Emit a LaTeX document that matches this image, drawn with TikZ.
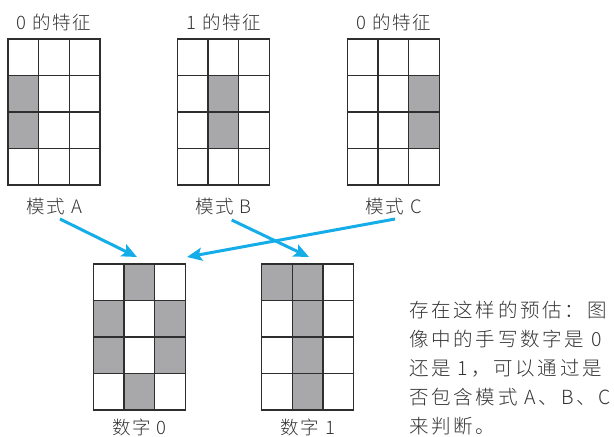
\documentclass[tikz,border=0pt]{standalone}
\usepackage{fontspec}
\setmainfont{Noto Sans CJK SC}[UprightFont={* Light}]
\newfontfamily\notefont{Noto Sans CJK SC}[UprightFont={* Light}, LetterSpace=14]
\newfontfamily\lblfont{Noto Sans CJK SC}[UprightFont={* Light}, LetterSpace=8]
\usepackage{xcolor}
\definecolor{flowblue}{HTML}{15ADE8}
\definecolor{cellgray}{HTML}{A8A8AA}
\definecolor{gridink}{HTML}{2E2E2E}
\definecolor{textink}{HTML}{333333}
\usetikzlibrary{arrows.meta, positioning, calc}

\def\cw{30.667}
\def\ch{36.5}
% name, top-left x, top-left y, shaded cells col/row
\newcommand{\cellgrid}[4]{%
  \begin{scope}[shift={(#2,#3)}]
    \foreach \c/\r in {#4}{
      \fill[cellgray] (\c*\cw,\r*\ch) rectangle ++(\cw,\ch);
    }
    \foreach \i in {1,2}{
      \draw[gridline] (\i*\cw,0) -- (\i*\cw,4*\ch);
    }
    \foreach \j in {1,2,3}{
      \draw[gridline] (0,\j*\ch) -- (3*\cw,\j*\ch);
    }
    \draw[gridline] (0,0) rectangle (3*\cw,4*\ch);
    \node[inner sep=0pt, minimum width=3*\cw, minimum height=4*\ch,
          anchor=north west] (#1) at (0,0) {};
  \end{scope}}

\begin{document}
\begin{tikzpicture}[x=1pt, y=-1pt,
    gridline/.style={draw=gridink, line width=1.4pt},
    lbl/.style={inner sep=0pt, text=textink, font=\lblfont\fontsize{18.5}{20}\selectfont},
    flow/.style={draw=flowblue, line width=3pt,
                 -{Stealth[length=15pt, width=13pt, inset=3pt]}},
    note/.style={inner sep=0pt, text=textink, align=left,
                 font=\notefont\fontsize{19.5}{29}\selectfont}]
  \useasboundingbox (0,0) rectangle (614,437);

  % feature patterns
  \cellgrid{gA}{8}{39}{0/1, 0/2}
  \cellgrid{gB}{177.3}{39}{1/1, 1/2}
  \cellgrid{gC}{347.3}{39}{2/1, 2/2}
  % handwritten digits
  \cellgrid{dZero}{93.3}{264}{1/0, 0/1, 2/1, 0/2, 2/2, 1/3}
  \cellgrid{dOne}{261.7}{264}{0/0, 1/0, 1/1, 1/2, 1/3}

  \node[lbl] (hA) at (gA.north |- 0,22) {0\,\,的特征};
  \node[lbl] (hB) at (gB.north |- 0,22) {1\,\,的特征};
  \node[lbl] (hC) at (gC.north |- 0,22) {0\,\,的特征};
  \node[lbl] (pA) at (gA.south |- 0,206) {模式\,\,A};
  \node[lbl] (pB) at (gB.south |- 0,206) {模式\,\,B};
  \node[lbl] (pC) at (gC.south |- 0,206) {模式\,\,C};
  \node[lbl] (nZero) at (dZero.south |- 0,427) {数字\,\,0};
  \node[lbl] (nOne) at (dOne.south |- 0,427) {数字\,\,1};

  \coordinate (sA) at (60,219);
  \coordinate (sB) at (231.7,220);
  \coordinate (sC) at (395,219);
  \coordinate (eA) at (137,257);
  \coordinate (eB) at (309,257);
  \coordinate (eC) at (187,257);
  \draw[flow] (sA) -- (eA);
  \draw[flow] (sB) -- (eB);
  \draw[flow] (sC) -- (eC);

  \node[note, anchor=north west] (remark) at (409,301)
    {存在这样的预估：图\\像中的手写数字是 0\\还是 1，可以通过是\\否包含模式 A、B、C\\来判断。};
\end{tikzpicture}
\end{document}
